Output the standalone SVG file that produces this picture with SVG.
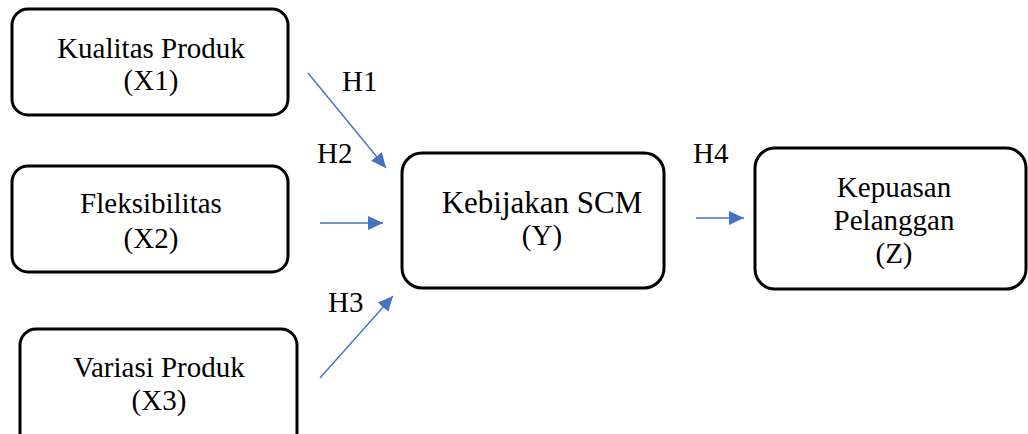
<svg xmlns="http://www.w3.org/2000/svg" width="1028" height="434" viewBox="0 0 1028 434">
  <style>
    .box { fill: #ffffff; stroke: #000000; stroke-width: 3; }
    .lbl { font-family: "Liberation Serif", "Times New Roman", serif; font-size: 29px; fill: #000000; text-anchor: middle; }
    .big { font-size: 31px; }
    .hyp { font-family: "Liberation Serif", "Times New Roman", serif; font-size: 29px; fill: #000000; }
    .link { stroke: #4472C4; stroke-width: 1.4; fill: none; marker-end: url(#arrow); }
  </style>
  <defs>
    <marker id="arrow" markerUnits="userSpaceOnUse" markerWidth="16" markerHeight="14" refX="15" refY="7" orient="auto">
      <path d="M0,0 L15,7 L0,14 Z" fill="#4472C4"/>
    </marker>
  </defs>
  <rect width="1028" height="434" fill="#ffffff"/>

  <g id="x1">
    <rect class="box" x="12" y="9" width="276" height="106" rx="16"/>
    <text class="lbl" x="151" y="58">Kualitas Produk</text>
    <text class="lbl" x="151" y="90">(X1)</text>
  </g>

  <g id="x2">
    <rect class="box" x="12" y="166" width="276" height="106" rx="16"/>
    <text class="lbl" x="151" y="213">Fleksibilitas</text>
    <text class="lbl" x="151" y="248">(X2)</text>
  </g>

  <g id="x3">
    <rect class="box" x="20" y="329" width="277" height="120" rx="16"/>
    <text class="lbl" x="159" y="377">Variasi Produk</text>
    <text class="lbl" x="159" y="410">(X3)</text>
  </g>

  <g id="y">
    <rect class="box" x="402" y="153" width="262" height="135" rx="20"/>
    <text class="lbl big" x="542" y="213">Kebijakan SCM</text>
    <text class="lbl" x="542" y="245">(Y)</text>
  </g>

  <g id="z">
    <rect class="box" x="755" y="148" width="271" height="141" rx="20"/>
    <text class="lbl" x="894" y="197">Kepuasan</text>
    <text class="lbl" x="894" y="230">Pelanggan</text>
    <text class="lbl" x="894" y="263">(Z)</text>
  </g>

  <g id="connectors">
    <line class="link" x1="308" y1="73" x2="386" y2="168"/>
    <line class="link" x1="320" y1="223" x2="383" y2="223"/>
    <line class="link" x1="320" y1="378" x2="393" y2="296"/>
    <line class="link" x1="696" y1="218" x2="744" y2="218"/>
    <text class="hyp" x="342" y="91">H1</text>
    <text class="hyp" x="317" y="163">H2</text>
    <text class="hyp" x="328" y="312">H3</text>
    <text class="hyp" x="693" y="163">H4</text>
  </g>
</svg>
